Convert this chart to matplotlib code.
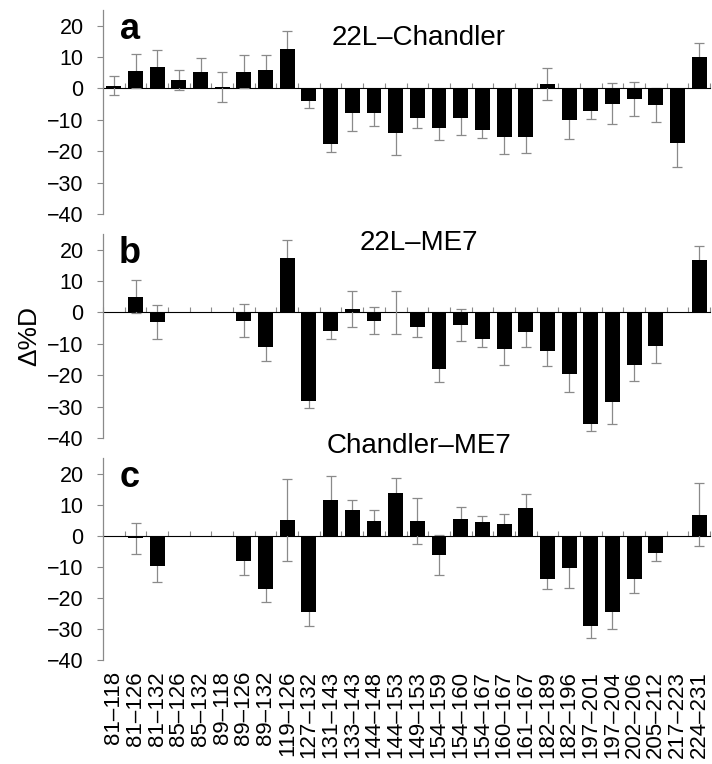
import numpy as np
import matplotlib
matplotlib.use('Agg')
import matplotlib.pyplot as plt

plt.rcParams['font.family'] = ['Liberation Sans', 'DejaVu Sans']

# peptide segments (x categories)
segments = ['81–118', '81–126', '81–132', '85–126', '85–132', '89–118', '89–126',
            '89–132', '119–126', '127–132', '131–143', '133–143', '144–148', '144–153',
            '149–153', '154–159', '154–160', '154–167', '160–167', '161–167', '182–189',
            '182–196', '197–201', '197–204', '202–206', '205–212', '217–223', '224–231']

nan = np.nan

# panel a: 22L-Chandler
a_vals = [0.9, 5.7, 6.7, 2.7, 5.4, 0.5, 5.4, 6.0, 12.7, -4.1, -17.7, -7.7, -7.7, -14.2,
          -9.4, -12.5, -9.4, -13.1, -15.4, -15.4, 1.5, -10.0, -7.1, -4.8, -3.4, -5.2,
          -17.4, 9.9]
a_errs = [3.0, 5.4, 5.6, 3.2, 4.3, 4.9, 5.2, 4.6, 5.6, 2.1, 2.7, 5.7, 4.3, 6.9,
          3.3, 3.9, 5.4, 2.6, 5.4, 5.1, 5.1, 6.0, 2.7, 6.6, 5.3, 5.5, 7.7, 4.5]

# panel b: 22L-ME7
b_vals = [nan, 5.0, -3.0, nan, nan, nan, -2.6, -10.9, 17.5, -28.3, -5.9, 1.0, -2.6, 0.0,
          -4.7, -18.0, -4.0, -8.5, -11.5, -6.2, -12.2, -19.7, -35.4, -28.6, -16.6, -10.6,
          nan, 16.7]
b_errs = [nan, 5.2, 5.5, nan, nan, nan, 5.2, 4.5, 5.5, 2.2, 2.7, 5.7, 4.2, 6.8,
          3.0, 4.3, 5.2, 2.5, 5.1, 4.8, 4.7, 5.8, 2.3, 6.8, 5.1, 5.5, nan, 4.4]

# panel c: Chandler-ME7
c_vals = [nan, -0.9, -9.6, nan, nan, nan, -8.1, -17.3, 5.2, -24.7, 11.5, 8.4, 4.8, 13.8,
          4.8, -6.3, 5.5, 4.3, 3.8, 9.0, -13.9, -10.3, -28.9, -24.7, -13.9, -5.7,
          nan, 6.8]
c_errs = [nan, 4.9, 5.2, nan, nan, nan, 4.6, 3.9, 13.2, 4.2, 7.6, 3.1, 3.6, 4.9,
          7.4, 6.4, 3.7, 2.0, 3.2, 4.4, 3.4, 6.5, 4.0, 5.4, 4.5, 2.4, nan, 10.0]

panels = [('a', '22L–Chandler', a_vals, a_errs, 0.863),
          ('b', '22L–ME7', b_vals, b_errs, 0.957),
          ('c', 'Chandler–ME7', c_vals, c_errs, 1.06)]

grey = '#8a8a8a'
ymin, ymax = -40, 25
W, H = 712, 764
fig = plt.figure(figsize=(W / 100, H / 100), dpi=100)

# pixel extents (top, bottom) of each panel
boxes = [(10, 214), (234, 438), (458, 660)]
left_px, right_px = 103, 710

x = np.arange(len(segments))
axes = []
for (letter, title, vals, errs, ty), (top, bot) in zip(panels, boxes):
    ax = fig.add_axes([left_px / W, 1 - bot / H, (right_px - left_px) / W, (bot - top) / H])
    axes.append(ax)
    vals = np.array(vals)
    errs = np.array(errs)
    ax.errorbar(x, vals, yerr=errs, fmt='none', ecolor=grey, elinewidth=0.9,
                capsize=3.5, capthick=0.9, zorder=1)
    ax.bar(x, vals, width=0.69, color='black', zorder=2)

    ax.set_xlim(-0.5, len(segments) - 0.5)
    ax.set_ylim(ymin, ymax)
    ax.set_yticks(np.arange(-40, 21, 10))
    ax.tick_params(axis='y', direction='out', length=4, width=0.8, color=grey,
                   labelsize=15.5, pad=10)
    for s in ['top', 'right', 'bottom']:
        ax.spines[s].set_visible(False)
    ax.spines['left'].set_color(grey)
    ax.spines['left'].set_linewidth(0.9)

    # zero axis line with ticks at category boundaries
    zero = ax.secondary_xaxis((0 - ymin) / (ymax - ymin))
    zero.set_xticks(np.arange(len(segments) + 1) - 0.5)
    zero.set_xticklabels([])
    zero.tick_params(direction='out', length=3.5, width=0.8, color=grey)
    zero.spines['bottom'].set_color(grey)
    zero.spines['bottom'].set_linewidth(0.9)

    ax.set_xticks(x)
    ax.tick_params(axis='x', length=0)
    if letter == 'c':
        ax.set_xticklabels(segments, rotation=90, fontsize=16)
        ax.tick_params(axis='x', pad=8)
    else:
        ax.set_xticklabels([])

    ax.text(0.044, 0.905, letter, transform=ax.transAxes, fontsize=26,
            fontweight='bold', ha='center', va='center')
    ax.text(0.52, ty, title, transform=ax.transAxes, fontsize=20,
            ha='center', va='center', clip_on=False)

axes[1].set_ylabel('Δ%D', fontsize=19, labelpad=4)

fig.savefig('out.png', dpi=100)
